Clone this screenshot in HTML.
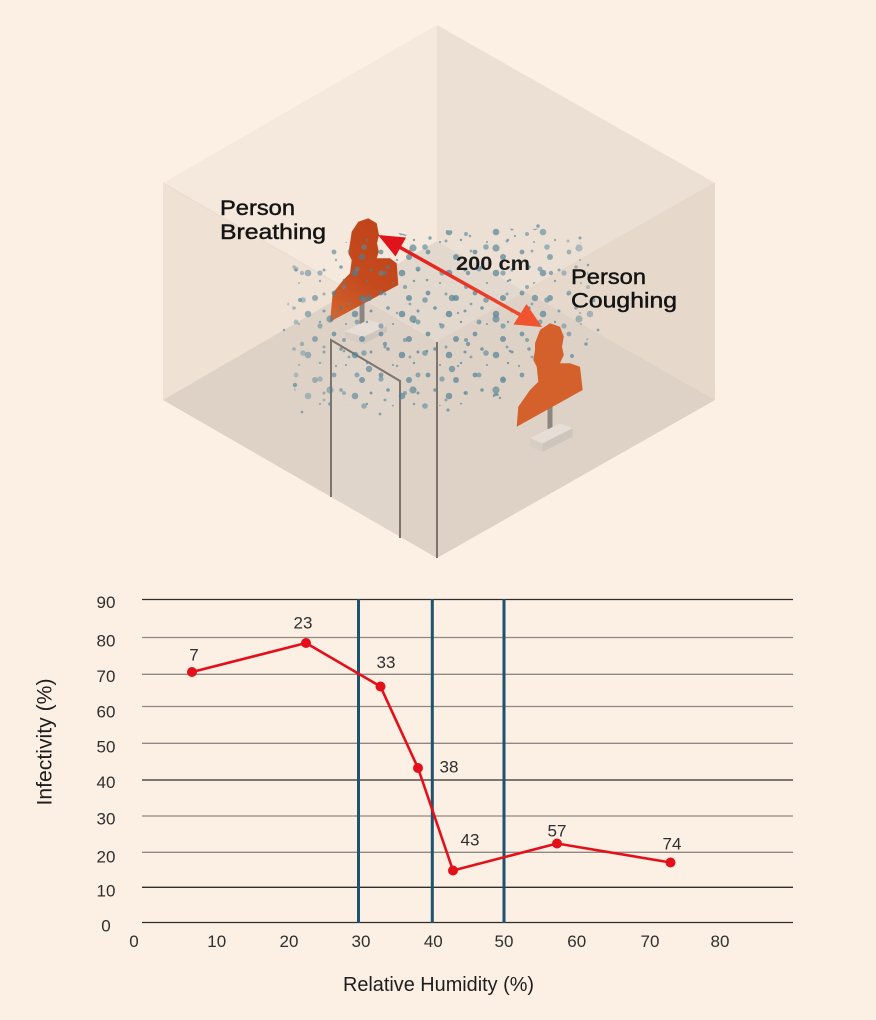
<!DOCTYPE html>
<html>
<head>
<meta charset="utf-8">
<style>
  html,body{margin:0;padding:0;background:#fcefe3;}
  svg{display:block;}
  text{font-family:"Liberation Sans",Arial,sans-serif;}
  #dotsA circle{fill:#4e7f93;}
  #dotsB circle{fill:#5a8a9c;}
  #dotsC circle{fill:#547f92;}
</style>
</head>
<body>
<svg width="876" height="1020" viewBox="0 0 876 1020" xmlns="http://www.w3.org/2000/svg">
  <defs>
    <linearGradient id="arrowGrad" x1="378" y1="235" x2="542" y2="327" gradientUnits="userSpaceOnUse">
      <stop offset="0" stop-color="#e0121a"/>
      <stop offset="1" stop-color="#f0532f"/>
    </linearGradient>
    <linearGradient id="bustA" x1="398" y1="225" x2="330" y2="320" gradientUnits="userSpaceOnUse">
      <stop offset="0" stop-color="#c0421a"/>
      <stop offset="0.55" stop-color="#c44a1d"/>
      <stop offset="1" stop-color="#d4652f"/>
    </linearGradient>
    <pattern id="dotsA" width="47" height="41" patternUnits="userSpaceOnUse">
      <circle cx="5" cy="6" r="2.4"/>
      <circle cx="33" cy="11" r="3"/>
      <circle cx="42" cy="24" r="1.5"/>
      <circle cx="12" cy="21" r="1.8"/>
      <circle cx="26" cy="27" r="3.3"/>
      <circle cx="38" cy="35" r="1.2"/>
      <circle cx="17" cy="37" r="1"/>
    </pattern>
    <pattern id="dotsB" width="61" height="53" patternUnits="userSpaceOnUse" x="9" y="17">
      <circle cx="10" cy="12" r="1.5"/>
      <circle cx="30" cy="5" r="2"/>
      <circle cx="50" cy="18" r="2.8"/>
      <circle cx="22" cy="31" r="1.2"/>
      <circle cx="43" cy="40" r="2.5"/>
      <circle cx="6" cy="44" r="2.6"/>
      <circle cx="35" cy="22" r="1.4"/>
    </pattern>
    <pattern id="dotsC" width="83" height="71" patternUnits="userSpaceOnUse" x="23" y="5">
      <circle cx="14" cy="9" r="3.2"/>
      <circle cx="58" cy="30" r="3.6"/>
      <circle cx="30" cy="55" r="2.2"/>
      <circle cx="72" cy="62" r="1.3"/>
    </pattern>
    <clipPath id="blob">
      <path d="M290,265 L305,255 L318,262 L335,248 L350,240 L372,236 L395,232 L420,238 L445,230 L470,232 L495,226 L520,230 L545,228 L568,234 L585,245 L582,262 L592,280 L590,300 L596,320 L588,340 L575,345 L560,332 L548,345 L535,360 L525,380 L510,392 L490,398 L470,404 L445,405 L420,410 L395,406 L370,410 L345,405 L320,408 L300,402 L292,385 L295,365 L288,345 L293,325 L287,305 L293,285 Z"/>
    </clipPath>
    <radialGradient id="fadeG" cx="440" cy="310" r="170" gradientUnits="userSpaceOnUse">
      <stop offset="0" stop-color="#fff" stop-opacity="1"/>
      <stop offset="0.65" stop-color="#fff" stop-opacity="0.9"/>
      <stop offset="1" stop-color="#fff" stop-opacity="0.45"/>
    </radialGradient>
    <mask id="fadeM">
      <rect x="0" y="0" width="876" height="560" fill="url(#fadeG)"/>
    </mask>
  </defs>

  <rect x="0" y="0" width="876" height="1020" fill="#fcefe3"/>

  <!-- Room -->
  <polygon points="437,25 163,183 163,400 437,241" fill="#f5e8dc"/>
  <polygon points="437,25 715,183 715,400 437,241" fill="#ecdfd3"/>
  <polygon points="437,241 163,400 437,558 715,400" fill="#e3d8cd"/>
  <!-- translucent front faces -->
  <polygon points="163,183 437,341 437,558 163,400" fill="#7a5a3c" fill-opacity="0.045"/>
  <polygon points="715,183 437,341 437,558 715,400" fill="#7a5a3c" fill-opacity="0.045"/>
  <line x1="163" y1="183" x2="437" y2="341" stroke="#e8dbcf" stroke-width="1"/>
  <line x1="715" y1="183" x2="437" y2="341" stroke="#e4d7cb" stroke-width="1"/>
  <!-- door panel -->
  <polygon points="331,340 400,381 400,538 331,497" fill="#ffffff" fill-opacity="0.08"/>

  <!-- breathing person stand -->
  <rect x="359.5" y="298" width="5" height="26" fill="#8d8680"/>
  <polygon points="345,331.5 368,320 387,325.5 363.5,337" fill="#e6ded6"/>
  <polygon points="345,331.5 363.5,337 363.5,344 345,338.5" fill="#d6cdc5"/>
  <polygon points="363.5,337 387,325.5 387,332 363.5,344" fill="#cec5bd"/>

  <!-- breathing person -->
  <polygon fill="url(#bustA)" points="351.7,231.7 358.3,221.7 368.3,218.3 376.7,223.3 379,235 377,243.3 378.8,251.7 376.7,258.3 390,258.3 396.7,263.3 398.3,285 330,321.7 332.7,293.3 343.3,280 350,273.3 351.7,260 348.3,253.3 350,243.3"/>

  <!-- door lines & front edge -->
  <polyline points="331,497 331,340 400,381 400,538" fill="none" stroke="#7d746e" stroke-width="2"/>
  <line x1="437" y1="342" x2="437" y2="558" stroke="#7d746e" stroke-width="2"/>

  <!-- droplets -->
  <g clip-path="url(#blob)" mask="url(#fadeM)">
    <rect x="280" y="220" width="330" height="200" fill="url(#dotsA)" opacity="0.72"/>
    <rect x="280" y="220" width="330" height="200" fill="url(#dotsB)" opacity="0.68"/>
    <rect x="280" y="220" width="330" height="200" fill="url(#dotsC)" opacity="0.7"/>
  </g>
  <g fill="#5a8a9c" opacity="0.7">
    <circle cx="296" cy="270" r="1.5"/>
    <circle cx="300" cy="300" r="2"/>
    <circle cx="284" cy="330" r="1.2"/>
    <circle cx="295" cy="385" r="2.2"/>
    <circle cx="302" cy="412" r="1.3"/>
    <circle cx="330" cy="404" r="1.8"/>
    <circle cx="380" cy="414" r="1.4"/>
    <circle cx="448" cy="410" r="1.6"/>
    <circle cx="500" cy="398" r="1.2"/>
    <circle cx="538" cy="226" r="1.8"/>
    <circle cx="515" cy="236" r="1.1"/>
    <circle cx="580" cy="238" r="1.5"/>
    <circle cx="593" cy="300" r="2.4"/>
    <circle cx="598" cy="330" r="1.4"/>
    <circle cx="586" cy="344" r="1.8"/>
    <circle cx="572" cy="356" r="2"/>
    <circle cx="588" cy="265" r="1.3"/>
    <circle cx="470" cy="236" r="1.2"/>
    <circle cx="430" cy="238" r="1.7"/>
  </g>

  <!-- coughing person stand -->
  <rect x="547.5" y="405" width="5" height="24" fill="#8d8680"/>
  <polygon points="530,438.3 560,423.3 572.7,428.3 542.5,443.5" fill="#e6ded6"/>
  <polygon points="530,438.3 542.5,443.5 542.5,451.7 530,446.7" fill="#d6cdc5"/>
  <polygon points="542.5,443.5 572.7,428.3 572.7,436.7 542.5,451.7" fill="#cec5bd"/>

  <!-- coughing person -->
  <polygon fill="#d4612b" points="535,343.3 540,330 550,323.3 560,326.7 563.8,336.7 562,346.7 563.8,355 560,363.3 570,363.3 580,366.7 582.7,390 516.7,426.7 518.3,406.7 530,390 538.3,381.7 536.7,366.7 533.3,360 535,350"/>

  <!-- arrow -->
  <line x1="394" y1="244" x2="525" y2="317.5" stroke="url(#arrowGrad)" stroke-width="3.5"/>
  <polygon points="378,235 406,237.5 395.5,256.5" fill="#e0121a"/>
  <polygon points="542,327 513.5,324.5 526.5,304" fill="#f0532f"/>

  <!-- labels -->
  <g fill="#141414" stroke="#141414" stroke-width="0.45" font-size="21">
    <text x="220" y="215" textLength="75" lengthAdjust="spacingAndGlyphs">Person</text>
    <text x="220" y="239" textLength="106" lengthAdjust="spacingAndGlyphs">Breathing</text>
    <text x="571" y="284" textLength="75" lengthAdjust="spacingAndGlyphs">Person</text>
    <text x="571" y="307.5" textLength="106" lengthAdjust="spacingAndGlyphs">Coughing</text>
  </g>
  <text x="456" y="270" font-size="19" font-weight="bold" fill="#1a1a1a" textLength="74" lengthAdjust="spacingAndGlyphs">200 cm</text>

  <!-- ===== Chart ===== -->
  <g stroke-width="1.3">
    <line x1="142" y1="599.5" x2="793" y2="599.5" stroke="#2e2e2e"/>
    <line x1="142" y1="637.5" x2="793" y2="637.5" stroke="#8e8985"/>
    <line x1="142" y1="674.3" x2="793" y2="674.3" stroke="#8e8985"/>
    <line x1="142" y1="706.5" x2="793" y2="706.5" stroke="#8e8985"/>
    <line x1="142" y1="743.3" x2="793" y2="743.3" stroke="#8e8985"/>
    <line x1="142" y1="780" x2="793" y2="780" stroke="#2e2e2e"/>
    <line x1="142" y1="816" x2="793" y2="816" stroke="#8e8985"/>
    <line x1="142" y1="852.3" x2="793" y2="852.3" stroke="#8e8985"/>
    <line x1="142" y1="887.3" x2="793" y2="887.3" stroke="#2e2e2e"/>
    <line x1="142" y1="922.5" x2="793" y2="922.5" stroke="#2e2e2e"/>
  </g>
  <g stroke="#1d5270" stroke-width="3">
    <line x1="358.5" y1="599" x2="358.5" y2="923"/>
    <line x1="432.3" y1="599" x2="432.3" y2="923"/>
    <line x1="504" y1="599" x2="504" y2="923"/>
  </g>

  <!-- y tick labels -->
  <g font-size="17" fill="#2f2f2f" text-anchor="middle">
    <text x="106" y="608">90</text>
    <text x="106" y="646.3">80</text>
    <text x="106" y="682">70</text>
    <text x="106" y="717.3">60</text>
    <text x="106" y="752.5">50</text>
    <text x="106" y="788">40</text>
    <text x="106" y="824.3">30</text>
    <text x="106" y="862.3">20</text>
    <text x="106" y="896.3">10</text>
    <text x="106" y="931.3">0</text>
  </g>
  <!-- x tick labels -->
  <g font-size="17" fill="#2f2f2f" text-anchor="middle">
    <text x="134" y="947">0</text>
    <text x="216.7" y="947">10</text>
    <text x="289" y="947">20</text>
    <text x="361" y="947">30</text>
    <text x="433.3" y="947">40</text>
    <text x="504" y="947">50</text>
    <text x="576.7" y="947">60</text>
    <text x="650" y="947">70</text>
    <text x="720" y="947">80</text>
  </g>

  <!-- series -->
  <polyline points="192,672 306,643 380.5,686.5 418,768 453,870.5 557,843.5 670.5,862.5" fill="none" stroke="#e3101c" stroke-width="2.6" stroke-linejoin="round"/>
  <g fill="#e3101c">
    <circle cx="192" cy="672" r="5"/>
    <circle cx="306" cy="643" r="5"/>
    <circle cx="380.5" cy="686.5" r="5"/>
    <circle cx="418" cy="768" r="5"/>
    <circle cx="453" cy="870.5" r="5"/>
    <circle cx="557" cy="843.5" r="5"/>
    <circle cx="670.5" cy="862.5" r="5"/>
  </g>
  <g font-size="17" fill="#2f2f2f" text-anchor="middle">
    <text x="194" y="660.3">7</text>
    <text x="303" y="628.3">23</text>
    <text x="386" y="668">33</text>
    <text x="449" y="772.3">38</text>
    <text x="470" y="845.3">43</text>
    <text x="557" y="836.3">57</text>
    <text x="672" y="849.3">74</text>
  </g>

  <!-- axis titles -->
  <text x="343" y="991" font-size="20" fill="#1e1e1e" textLength="191" lengthAdjust="spacingAndGlyphs">Relative Humidity (%)</text>
  <text transform="translate(51.5,742) rotate(-90)" x="0" y="0" font-size="21" fill="#1e1e1e" text-anchor="middle" textLength="127" lengthAdjust="spacingAndGlyphs">Infectivity (%)</text>
</svg>
</body>
</html>
